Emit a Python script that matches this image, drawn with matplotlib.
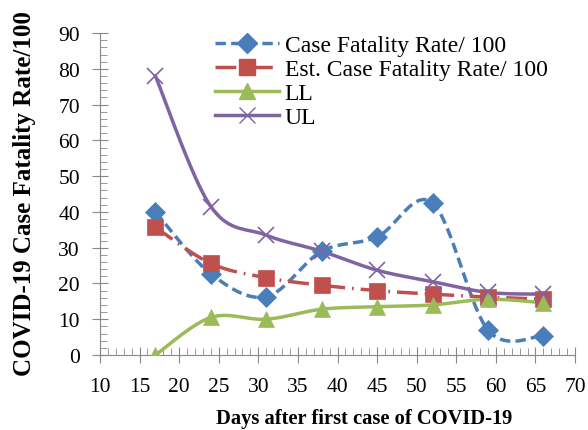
import matplotlib
matplotlib.use("Agg")
import matplotlib.pyplot as plt
from matplotlib.ticker import MultipleLocator
import numpy as np

days = [17, 24, 31, 38, 45, 52, 59, 66]
cfr = [40, 22.7, 16.3, 29, 33, 42.5, 7, 5.4]
est_cfr = [35.7, 25.6, 21.6, 19.5, 18, 17, 16.2, 15.6]
ll = [0, 10.5, 10, 12.8, 13.5, 14, 15.6, 14.6]
ul = [78, 41.5, 33.5, 29, 23.7, 20.5, 17.5, 17]

labels = ["Case Fatality Rate/ 100", "Est. Case Fatality Rate/ 100", "LL", "UL"]


def smooth(x, y, n=20):
    """Catmull-Rom curve through the points (like Excel smoothed line)."""
    x = np.asarray(x, float)
    y = np.asarray(y, float)
    px = np.concatenate([[x[0]], x, [x[-1]]])
    py = np.concatenate([[y[0]], y, [y[-1]]])
    xs, ys = [], []
    t = np.linspace(0, 1, n)
    for i in range(1, len(px) - 2):
        for p, out in ((px, xs), (py, ys)):
            p0, p1, p2, p3 = p[i - 1], p[i], p[i + 1], p[i + 2]
            m1 = (p2 - p0) / 2
            m2 = (p3 - p1) / 2
            h00 = 2 * t**3 - 3 * t**2 + 1
            h10 = t**3 - 2 * t**2 + t
            h01 = -2 * t**3 + 3 * t**2
            h11 = t**3 - t**2
            out.extend(h00 * p1 + h10 * m1 + h01 * p2 + h11 * m2)
    return xs, ys


plt.rcParams['font.family'] = ['Liberation Serif', 'DejaVu Serif']

fig = plt.figure(figsize=(5.88, 4.31), dpi=100)
ax = fig.add_axes([0.170, 0.174, 0.808, 0.747])

series = [
    (cfr, "#4A7EBB", "D", 10, dict(linestyle=(0, (3, 1.5)))),
    (est_cfr, "#C0504D", "s", 11, dict(linestyle=(0, (6, 2, 0.5, 2)))),
    (ll, "#9BBB59", "^", 11, dict(linestyle="-")),
    (ul, "#8064A2", "x", 11, dict(linestyle="-")),
]

for (vals, col, mk, ms, ls), lab in zip(series, labels):
    sx, sy = smooth(days, vals)
    ax.plot(sx, sy, color=col, lw=2.5, **ls, zorder=2)
    ax.plot(days, vals, linestyle="none", marker=mk, markersize=ms,
            color=col, markeredgewidth=1.2 if mk == "x" else 0.5, zorder=3)
    ax.plot([], [], color=col, lw=2.5, marker=mk, markersize=ms, label=lab, **ls)

ax.set_xlim(10, 70)
ax.set_ylim(0, 90)
ax.xaxis.set_major_locator(MultipleLocator(5))
ax.xaxis.set_minor_locator(MultipleLocator(1))
ax.yaxis.set_major_locator(MultipleLocator(10))
ax.yaxis.set_minor_locator(MultipleLocator(2))

for s in ["top", "right"]:
    ax.spines[s].set_visible(False)
for s in ["left", "bottom"]:
    ax.spines[s].set_color("#888888")

ax.tick_params(which="major", direction="inout", length=11, color="#888888", labelsize=15.5)
ax.tick_params(axis="x", which="major", pad=10)
ax.tick_params(axis="y", which="major", pad=9)
ax.tick_params(which="minor", direction="in", length=5, color="#888888")

ax.set_xlabel("Days after first case of COVID-19", fontsize=14.8, fontweight="bold", va="center")
ax.xaxis.set_label_coords(0.555, -0.195)
ax.set_ylabel("COVID-19 Case Fatality Rate/100", fontsize=18, fontweight="bold", va="center")
ax.yaxis.set_label_coords(-0.158, 0.503)

leg = ax.legend(loc="upper left", bbox_to_anchor=(0.242, 0.995), frameon=False, fontsize=17,
                handlelength=2.7, handletextpad=0.25, labelspacing=0.1, borderaxespad=0,
                borderpad=0)

fig.savefig("out.png", dpi=100)
